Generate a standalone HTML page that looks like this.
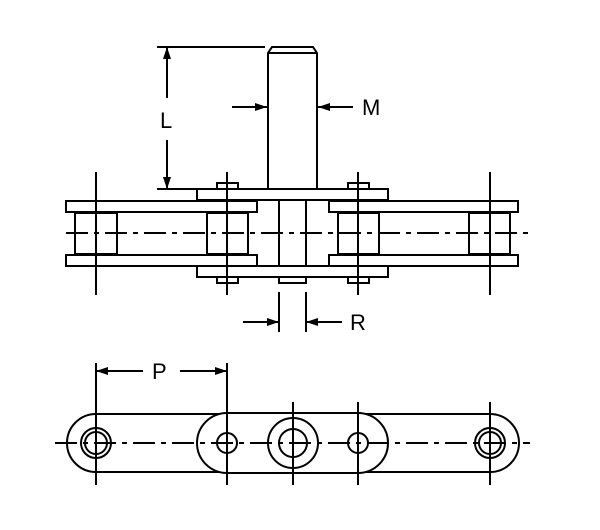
<!DOCTYPE html>
<html><head><style>html,body{margin:0;padding:0;background:#fff}svg{display:block}</style></head>
<body>
<svg width="600" height="530" viewBox="0 0 600 530" xmlns="http://www.w3.org/2000/svg">
<defs>
<marker id="a" markerWidth="12" markerHeight="8" refX="12" refY="4" orient="auto" markerUnits="userSpaceOnUse"><path d="M0,0 L12,4 L0,8 Z" fill="#000"/></marker>
</defs>
<g stroke="#000" stroke-width="2" fill="#fff">
<path d="M268,189 V53 L272,47 H313 L317,53 V189 M268,53 H317"/>
<rect x="197" y="189" width="191" height="11"/>
<rect x="197" y="266" width="191" height="11"/>
<rect x="217" y="183" width="21" height="6"/>
<rect x="348" y="183" width="21" height="6"/>
<rect x="217" y="277" width="21" height="6"/>
<rect x="348" y="277" width="21" height="6"/>
<rect x="279" y="277" width="27" height="6"/>
<rect x="66" y="201" width="191" height="11"/>
<rect x="329" y="201" width="189" height="11"/>
<rect x="66" y="255" width="191" height="11"/>
<rect x="329" y="255" width="189" height="11"/>
<rect x="75" y="213" width="42" height="41"/>
<rect x="207" y="213" width="41" height="41"/>
<rect x="338" y="213" width="41" height="41"/>
<rect x="469" y="213" width="41" height="41"/>
<path d="M279,200 V266 M306,200 V266" fill="none"/>
</g>
<g stroke="#000" stroke-width="2" fill="none">
<path d="M66,233 H530" stroke-dasharray="22,6,5,6"/>
<path d="M96,172 V295 M227,172 V295 M358,172 V295 M490,172 V295"/>
<path d="M157,47 H265 M157,189 H197"/>
<path d="M167,98 V47" marker-end="url(#a)"/>
<path d="M167,140 V189" marker-end="url(#a)"/>
<path d="M232,107 H267" marker-end="url(#a)"/>
<path d="M353,107 H318" marker-end="url(#a)"/>
<path d="M279,292 V332 M306,292 V332"/>
<path d="M243,322 H279" marker-end="url(#a)"/>
<path d="M342,322 H306" marker-end="url(#a)"/>
<path d="M96,363 V395 M227,363 V395" />
<path d="M96,395 V410 M227,395 V410" stroke-dasharray="8,5"/>
<path d="M143,371 H96" marker-end="url(#a)"/>
<path d="M180,371 H227" marker-end="url(#a)"/>
<path d="M96,414 H227 M96,472 H227 M358,414 H490 M358,472 H490"/>
<path d="M96,414 A29,29 0 0 0 96,472 M490,414 A29,29 0 0 1 490,472"/>
<rect x="197" y="413" width="191" height="60" rx="30" ry="30" fill="#fff"/>
<circle cx="96" cy="443" r="15"/><circle cx="96" cy="443" r="11"/>
<circle cx="490" cy="443" r="15"/><circle cx="490" cy="443" r="11"/>
<circle cx="227" cy="443" r="10"/><circle cx="358" cy="443" r="10"/>
<circle cx="293" cy="443" r="25"/><circle cx="293" cy="443" r="14"/>
<path d="M55,443 H530" stroke-dasharray="22,6,5,6"/>
<path d="M96,402 V485 M227,402 V485 M293,402 V485 M358,402 V485 M490,402 V485"/>
</g>
<g font-family="Liberation Sans, sans-serif" font-size="22" fill="#000">
<text x="160" y="128">L</text>
<text x="362" y="115">M</text>
<text x="350" y="330">R</text>
<text x="152" y="379">P</text>
</g>
</svg>
</body></html>
